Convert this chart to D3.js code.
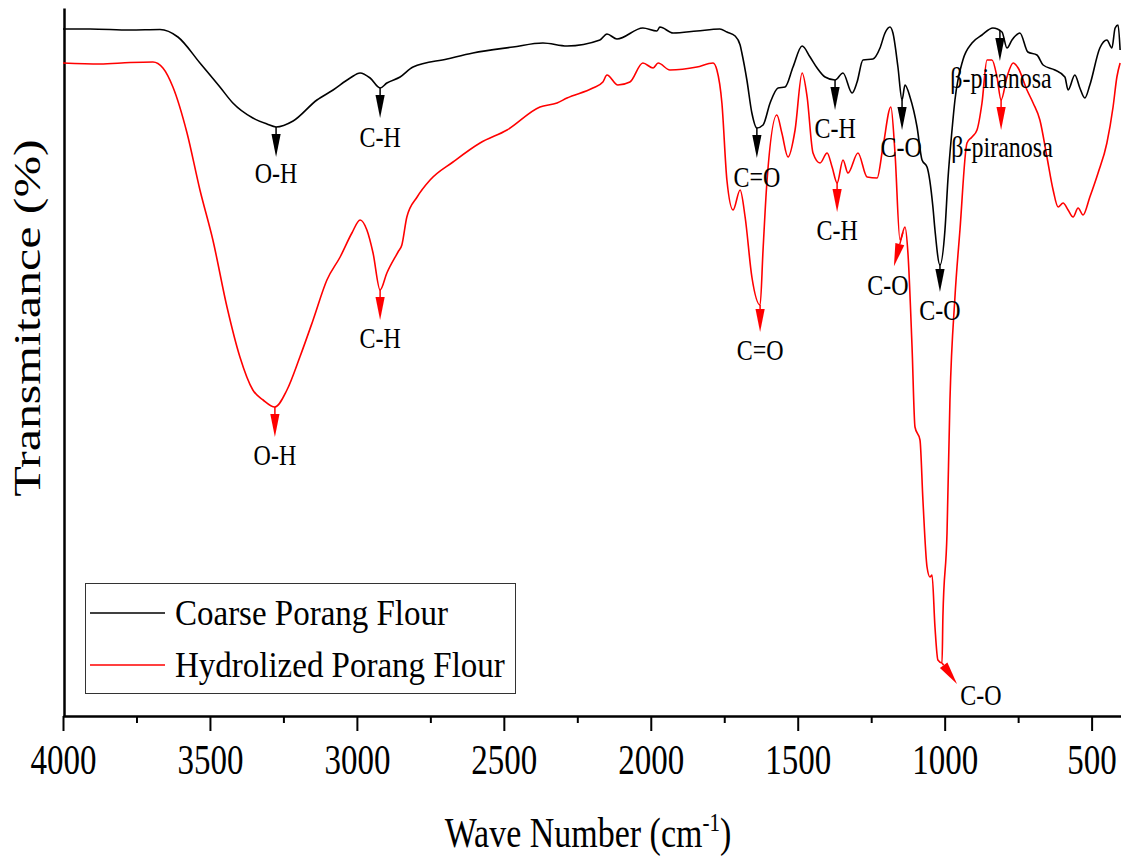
<!DOCTYPE html>
<html>
<head>
<meta charset="utf-8">
<script src="https://cdn.jsdelivr.net/npm/d3@7"></script>
<style>
  body { margin: 0; background: #fff; }
  svg { display: block; }
  text { font-family: "Liberation Serif", "Times New Roman", serif; fill: #000; }
</style>
</head>
<body>
<svg id="chart" width="1121" height="857"></svg>
<script>
// FTIR spectra: wave number (cm-1) and transmittance (%)
const coarseWave = [4000, 3908, 3772, 3670, 3609, 3534, 3466, 3422, 3354, 3306, 3275, 3217, 3136, 3081, 3023, 2989, 2955, 2921, 2898, 2853, 2809, 2693, 2605, 2469, 2367, 2285, 2173, 2149, 2115, 2027, 1979, 1969, 1924, 1843, 1765, 1741, 1713, 1696, 1690, 1673, 1656, 1639, 1618, 1594, 1567, 1543, 1516, 1485, 1458, 1434, 1407, 1373, 1346, 1315, 1298, 1278, 1244, 1220, 1203, 1186, 1176, 1159, 1145, 1135, 1118, 1094, 1077, 1060, 1040, 1033, 1016, 999, 989, 975, 965, 938, 907, 873, 836, 805, 788, 771, 744, 717, 686, 665, 625, 591, 580, 557, 540, 523, 506, 472, 448, 431, 420, 410, 403];
const coarseT = [68.7, 68.7, 68.6, 68.65, 67.9, 65.3, 62.9, 61.3, 59.8, 59.2, 58.9, 59.5, 61.6, 62.6, 63.8, 64.3, 63.8, 62.8, 63.3, 63.9, 64.9, 65.7, 66.3, 66.9, 67.3, 67.0, 67.6, 68.2, 67.7, 68.8, 68.5, 68.9, 68.3, 68.5, 68.7, 68.4, 68.0, 67.1, 66.3, 63.6, 60.3, 58.8, 59.1, 61.3, 62.8, 62.9, 64.9, 67.0, 65.9, 64.8, 63.9, 63.6, 64.3, 62.3, 63.4, 65.6, 65.7, 66.8, 68.3, 68.9, 68.3, 64.9, 61.6, 63.1, 61.9, 58.9, 55.6, 54.9, 50.9, 48.6, 45.1, 48.6, 53.6, 58.6, 61.6, 65.6, 67.3, 68.1, 68.8, 68.4, 66.8, 67.6, 68.3, 66.4, 66.1, 65.1, 64.6, 63.9, 62.6, 64.1, 62.8, 61.8, 63.1, 66.8, 67.6, 66.8, 68.8, 69.1, 66.6];

const hydroWave = [4000, 3874, 3772, 3694, 3660, 3626, 3578, 3534, 3490, 3442, 3398, 3354, 3319, 3279, 3238, 3194, 3149, 3102, 3057, 3017, 2989, 2966, 2945, 2921, 2898, 2860, 2847, 2830, 2795, 2751, 2673, 2581, 2489, 2377, 2319, 2285, 2197, 2163, 2149, 2112, 2071, 2027, 1992, 1975, 1935, 1843, 1788, 1775, 1758, 1741, 1720, 1696, 1679, 1656, 1628, 1618, 1605, 1571, 1554, 1533, 1509, 1485, 1468, 1448, 1424, 1400, 1383, 1366, 1346, 1329, 1295, 1264, 1230, 1210, 1183, 1169, 1152, 1135, 1125, 1111, 1101, 1084, 1074, 1060, 1050, 1043, 1033, 1023, 1009, 1006, 992, 982, 965, 948, 924, 907, 890, 873, 856, 839, 822, 808, 788, 767, 750, 720, 699, 676, 652, 631, 614, 597, 580, 563, 546, 529, 506, 478, 448, 427, 414, 403];
const hydroT = [65.3, 65.2, 65.35, 65.4, 64.8, 62.9, 58.3, 52.6, 47.6, 40.9, 35.9, 32.6, 31.6, 30.9, 32.6, 35.9, 39.6, 43.6, 45.9, 48.3, 49.6, 48.6, 46.3, 42.6, 44.3, 46.4, 47.1, 49.9, 51.9, 53.6, 55.4, 57.3, 58.6, 60.9, 61.3, 61.8, 62.8, 63.4, 64.1, 63.1, 63.4, 65.3, 64.8, 65.3, 64.6, 64.9, 65.3, 64.6, 61.3, 53.6, 50.6, 52.6, 49.9, 43.9, 41.1, 46.6, 53.3, 60.1, 58.3, 55.9, 58.6, 64.3, 61.9, 56.3, 55.3, 56.3, 54.9, 53.3, 55.6, 54.3, 56.3, 53.9, 53.8, 56.9, 60.9, 56.3, 47.6, 48.9, 46.3, 36.9, 28.9, 27.6, 21.6, 14.9, 13.9, 14.1, 8.9, 5.6, 5.3, 9.9, 18.3, 31.6, 41.9, 48.6, 57.3, 57.9, 58.6, 61.3, 65.6, 65.6, 63.9, 61.6, 63.9, 65.3, 64.8, 62.6, 61.3, 59.6, 55.9, 52.6, 50.9, 51.3, 50.6, 49.9, 50.8, 50.1, 51.9, 54.3, 57.3, 60.9, 63.9, 65.3];

const majorTicks = [4000, 3500, 3000, 2500, 2000, 1500, 1000, 500];
const minorTicks = [3750, 3250, 2750, 2250, 1750, 1250, 750];

const seriesNames = ["Coarse Porang Flour", "Hydrolized Porang Flour"];
const seriesColors = ["#000000", "#ff0000"];

// assigned absorption bands (cm-1) for each spectrum
const bandLabels = ["O-H", "C-H", "C=O", "C-H", "C-O", "C-O", "\u03b2-piranosa"];
const coarseBands = [3275, 2921, 1639, 1373, 1145, 1016, 812];
const hydroBands = [3279, 2921, 1628, 1366, 1142, 1009, 808];

const xLabel = "Wave Number (cm";
const xLabelSup = "-1";
const yLabel = "Transmitance (%)";

// ---------------------------------------------------------------
const SERIF = '"Liberation Serif", "Times New Roman", serif';
const svg = d3.select("#chart");
const x = d3.scaleLinear().domain([4000, 400]).range([63, 1121]);
const y = d3.scaleLinear().domain([0, 70.8]).range([716, 8]);

const series = [
  { name: seriesNames[0], color: seriesColors[0], waves: coarseWave, vals: coarseT, bands: coarseBands },
  { name: seriesNames[1], color: seriesColors[1], waves: hydroWave, vals: hydroT, bands: hydroBands }
];

// text with a vertical stretch factor
function label(g, str, tx, ty, size, sy, anchor) {
  return g.append("text")
    .attr("transform", `translate(${tx},${ty}) scale(1,${sy})`)
    .attr("text-anchor", anchor || "middle")
    .style("font-family", SERIF)
    .style("font-size", size + "px")
    .text(str);
}

// axes
const xAxisMajor = d3.axisBottom(x).tickValues(majorTicks).tickSize(15).tickSizeOuter(0).tickFormat(d3.format("d"));
const xAxisMinor = d3.axisBottom(x).tickValues(minorTicks).tickSize(7).tickSizeOuter(0).tickFormat("");

const gxMinor = svg.append("g").attr("transform", "translate(0,716)").call(xAxisMinor);
gxMinor.select(".domain").remove();
gxMinor.selectAll(".tick line").attr("stroke", "#000").attr("stroke-width", 2);

const gx = svg.append("g").attr("transform", "translate(0,716)").call(xAxisMajor);
gx.attr("font-family", SERIF).attr("font-size", 33);
gx.select(".domain").attr("stroke", "#000").attr("stroke-width", 2.5);
gx.selectAll(".tick line").attr("stroke", "#000").attr("stroke-width", 2);
gx.selectAll(".tick text")
  .attr("y", 0).attr("dy", 0)
  .attr("transform", "translate(0,58) scale(1,1.3)")
  .attr("fill", "#000")
  .style("font-family", SERIF)
  .style("font-size", "33px");

const gy = svg.append("g").attr("transform", "translate(64,0)")
  .call(d3.axisLeft(y).tickValues([]).tickSizeOuter(0));
gy.select(".domain").attr("stroke", "#000").attr("stroke-width", 2.5);

// spectra
const line = d3.line().x(d => x(d[0])).y(d => y(d[1])).curve(d3.curveMonotoneX);
series.forEach(s => {
  const pts = s.waves.map((w, i) => [w, s.vals[i]]);
  svg.append("path")
    .datum(pts)
    .attr("fill", "none")
    .attr("stroke", s.color)
    .attr("stroke-width", 1.6)
    .attr("stroke-linejoin", "round")
    .attr("d", line);
});

// band annotations
function valueAt(waves, vals, w) {
  for (let i = 0; i < waves.length - 1; i++) {
    if (w <= waves[i] && w >= waves[i + 1]) {
      const t = (waves[i] - w) / (waves[i] - waves[i + 1]);
      return vals[i] + t * (vals[i + 1] - vals[i]);
    }
  }
  return vals[vals.length - 1];
}

// arrow geometry per spectrum and band: tip offset and label offset (px)
const arrowGeom = [
  [[0, 30, 0, 56], [0, 30, 0, 59], [0, 30, 0, 59], [0, 30, 0, 58], [0, 30, -1, 57], [0, 27, 0, 55], [0, 30, 1, 57]],
  [[0, 30, 0, 58], [0, 30, 0, 58], [0, 27, 0, 55], [0, 29, 0, 57], [-9, 34, -15, 63], [15, 21, 39, 42], [0, 30, 1, 57]]
];

const ann = svg.append("g");
series.forEach((s, si) => {
  s.bands.forEach((w, bi) => {
    const sx = x(w), sy = y(valueAt(s.waves, s.vals, w));
    const [tdx, tdy, ldx, ldy] = arrowGeom[si][bi];
    const tx = sx + tdx, ty = sy + tdy;
    const len = Math.hypot(tdx, tdy);
    const ux = tdx / len, uy = tdy / len;
    const head = 23, hw = 4.6;
    const bx = tx - ux * head, by = ty - uy * head;
    ann.append("line")
      .attr("x1", sx).attr("y1", sy).attr("x2", bx).attr("y2", by)
      .attr("stroke", s.color).attr("stroke-width", 1.5);
    ann.append("path")
      .attr("d", `M${tx},${ty}L${bx - uy * hw},${by + ux * hw}L${bx + uy * hw},${by - ux * hw}Z`)
      .attr("fill", s.color);
    label(ann, bandLabels[bi], sx + ldx, sy + ldy, 24, 1.27, "middle");
  });
});

// legend
const lg = svg.append("g");
lg.append("rect")
  .attr("x", 85.5).attr("y", 583.5).attr("width", 430).attr("height", 110)
  .attr("fill", "#fff").attr("stroke", "#333").attr("stroke-width", 1);
series.forEach((s, i) => {
  const ly = 613 + i * 52;
  lg.append("line").attr("x1", 90).attr("x2", 165).attr("y1", ly).attr("y2", ly)
    .attr("stroke", s.color).attr("stroke-width", 1.6);
  label(lg, s.name, 175, ly + 12, 33, 1.08, "start");
});

// axis titles
const xt = svg.append("text")
  .attr("transform", "translate(588,847) scale(1,1.22)")
  .attr("text-anchor", "middle")
  .style("font-family", SERIF)
  .style("font-size", "34px");
xt.append("tspan").text(xLabel);
xt.append("tspan").attr("dy", -13).style("font-size", "21px").text(xLabelSup);
xt.append("tspan").attr("dy", 13).text(")");

svg.append("text")
  .attr("transform", "translate(40,318) scale(1,1.35) rotate(-90)")
  .attr("text-anchor", "middle")
  .style("font-family", SERIF)
  .style("font-size", "37px")
  .text(yLabel);
</script>
</body>
</html>
